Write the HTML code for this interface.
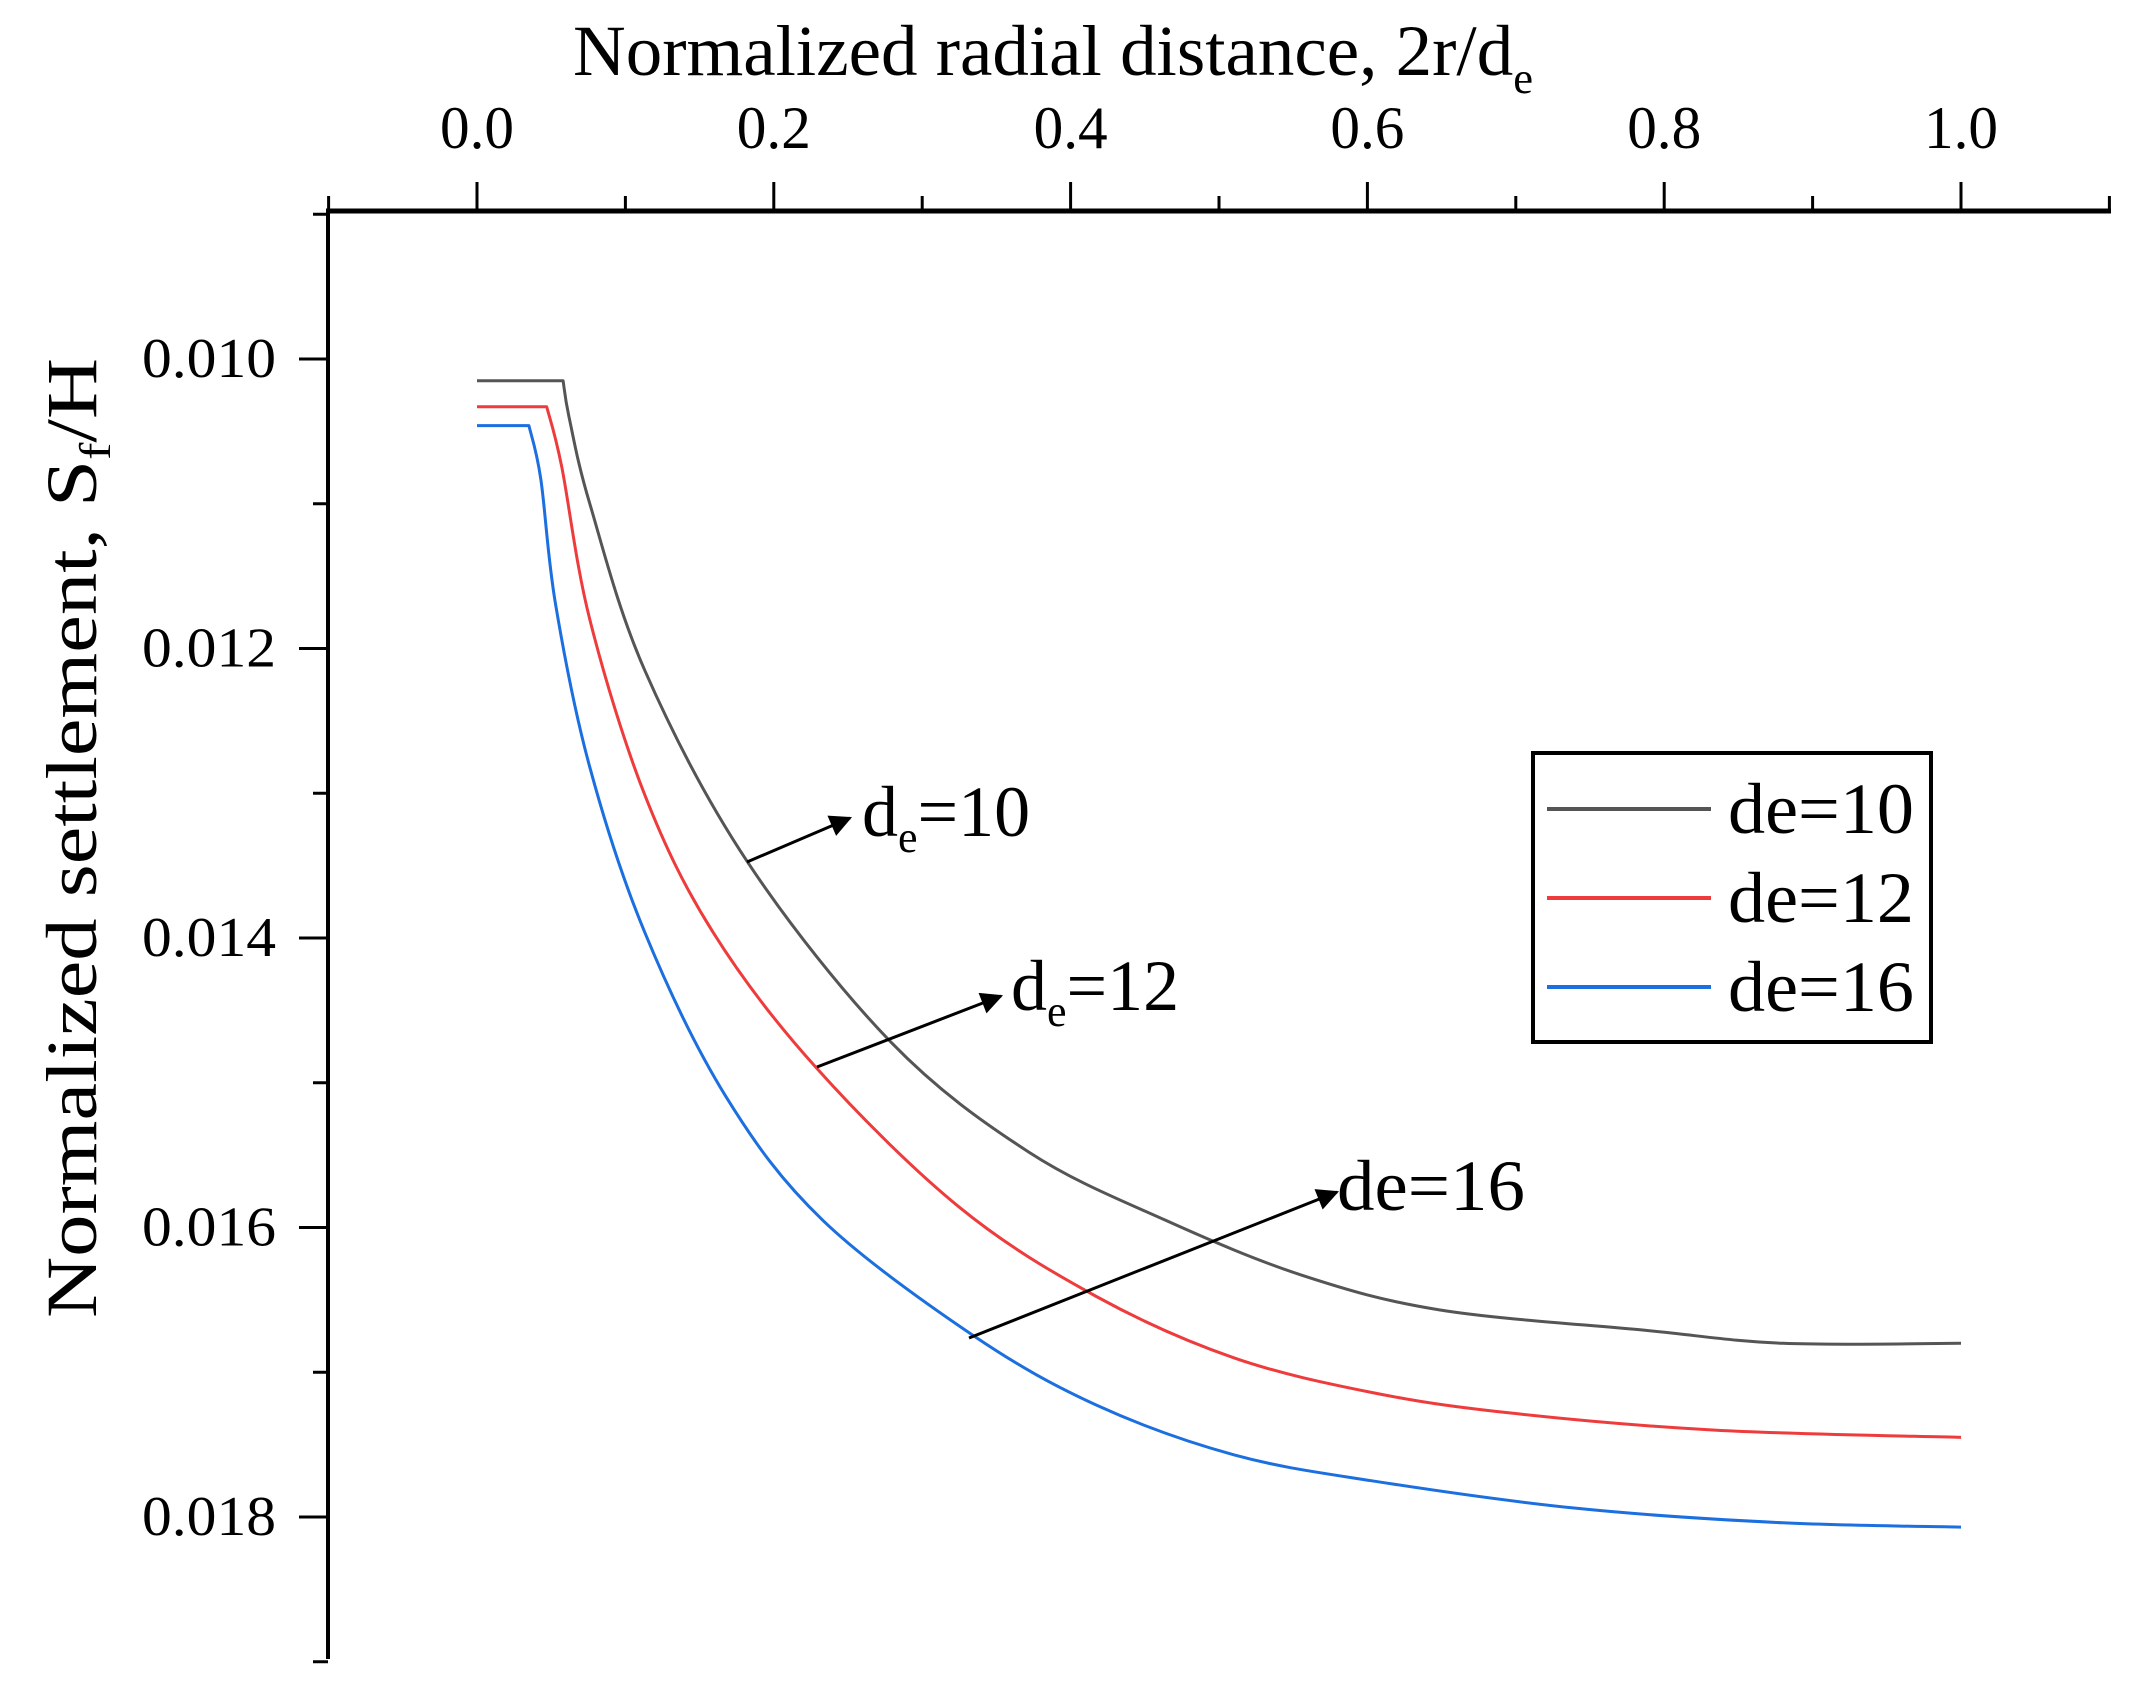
<!DOCTYPE html>
<html><head><meta charset="utf-8"><style>html,body{margin:0;padding:0;background:#fff}svg{display:block}</style></head>
<body>
<svg id="chart" width="2142" height="1691" viewBox="0 0 2142 1691" xmlns="http://www.w3.org/2000/svg" font-family="Liberation Serif, serif">
<g id="axes"></g>
<g id="series"></g>
<g id="annot"></g>
</svg>
<script>
const xTicks=[0,0.2,0.4,0.6,0.8,1.0];
const xTickLabels=["0.0","0.2","0.4","0.6","0.8","1.0"];
const yTicks=[0.010,0.012,0.014,0.016,0.018];
const yTickLabels=["0.010","0.012","0.014","0.016","0.018"];
const seriesNames=["de=10","de=12","de=16"];
const x10=[0,0.058,0.062,0.076,0.113,0.182,0.279,0.372,0.464,0.556,0.649,0.787,0.88,1.0];
const y10=[0.01015,0.01015,0.0104,0.0110,0.01215,0.01347,0.01472,0.01548,0.01595,0.01633,0.01657,0.01671,0.0168,0.0168];
const x12=[0,0.047,0.057,0.076,0.113,0.159,0.228,0.325,0.418,0.51,0.603,0.695,0.834,1.0];
const y12=[0.01033,0.01033,0.01074,0.01180,0.01301,0.01396,0.01489,0.01586,0.01648,0.0169,0.01714,0.01728,0.0174,0.01745];
const x16=[0,0.035,0.043,0.053,0.076,0.113,0.168,0.233,0.335,0.418,0.51,0.603,0.741,0.88,1.0];
const y16=[0.01046,0.01046,0.01083,0.01170,0.01282,0.01396,0.0151,0.01595,0.01675,0.01723,0.01757,0.01775,0.01794,0.01804,0.01807];
const colors=["#555555","#ee3c3c","#1b6fdf"];

const NS="http://www.w3.org/2000/svg";
const X0=328,X1=2109,Yt=211,Yb=1659;
function sx(v){return 477+(v-0)*(1961-477);}
function sy(v){return 359+(v-0.010)*(1517-359)/0.008;}
function mk(tag,attrs,parent,txt){const e=document.createElementNS(NS,tag);for(const k in attrs)e.setAttribute(k,attrs[k]);if(txt!==undefined)e.textContent=txt;parent.appendChild(e);return e;}
const ax=document.getElementById('axes');
let e;
e=mk('line',{x1:X0-2,y1:Yt,x2:X1+2,y2:Yt,stroke:'#000','stroke-width':5},ax);


e=mk('line',{x1:X0,y1:Yt,x2:X0,y2:Yb,stroke:'#000','stroke-width':4},ax);


for(let i=-1;i<=11;i++){const v=i/10;const px=sx(v);const major=(i%2===0);
 e=mk('line',{x1:px,y1:Yt,x2:px,y2:major?Yt-29:Yt-15,stroke:'#000','stroke-width':3},ax);
 
 }
xTicks.forEach((v,i)=>{e=mk('text',{x:sx(v),y:148,'text-anchor':'middle','font-size':60,textLength:74,lengthAdjust:'spacingAndGlyphs'},ax,xTickLabels[i]);
 
 });
for(let i=0;i<=10;i++){const v=0.009+i*0.001;const py=sy(v);const major=(i%2===1);
 e=mk('line',{x1:X0,y1:py,x2:major?X0-29:X0-15,y2:py,stroke:'#000','stroke-width':3},ax);
 
 }
yTicks.forEach((v,i)=>{e=mk('text',{x:276,y:sy(v)+18,'text-anchor':'end','font-size':56,textLength:134,lengthAdjust:'spacingAndGlyphs'},ax,yTickLabels[i]);
 
 });
e=mk('text',{x:573,y:75,'font-size':72,textLength:960,lengthAdjust:'spacingAndGlyphs'},ax);


e.innerHTML='Normalized radial distance, 2r/d<tspan font-size="44" dy="18">e</tspan>';
e=mk('text',{x:0,y:0,'font-size':72,transform:'translate(96,1318) rotate(-90)',textLength:960,lengthAdjust:'spacingAndGlyphs'},ax);


e.innerHTML='Normalized settlement, S<tspan font-size="44" dy="14">f</tspan><tspan dy="-14">/H</tspan>';

function smoothPath(px,py){
 let d='M'+px[0].toFixed(1)+','+py[0].toFixed(1)+' L'+px[1].toFixed(1)+','+py[1].toFixed(1);
 const n=px.length;
 for(let i=1;i<n-1;i++){
  const i0=Math.max(1,i-1),i3=Math.min(n-1,i+2);
  const c1x=px[i]+(px[i+1]-px[i0])/6,c1y=py[i]+(py[i+1]-py[i0])/6;
  const c2x=px[i+1]-(px[i3]-px[i])/6,c2y=py[i+1]-(py[i3]-py[i])/6;
  d+=' C'+c1x.toFixed(1)+','+c1y.toFixed(1)+' '+c2x.toFixed(1)+','+c2y.toFixed(1)+' '+px[i+1].toFixed(1)+','+py[i+1].toFixed(1);
 }
 return d;
}
const sg=document.getElementById('series');
[[x10,y10],[x12,y12],[x16,y16]].forEach((s,k)=>{
 const d=smoothPath(s[0].map(sx),s[1].map(sy));
 e=mk('path',{d:d,fill:'none',stroke:colors[k],'stroke-width':3,'stroke-linejoin':'round'},sg);
 
 
});
const lg=mk('g',{},sg);


e=mk('rect',{x:1533,y:753,width:398,height:289,fill:'#fff',stroke:'#000','stroke-width':4},lg);


seriesNames.forEach((n,k)=>{const yy=809+k*89;
 e=mk('line',{x1:1547,y1:yy,x2:1711,y2:yy,stroke:colors[k],'stroke-width':4},lg);
 
 
 e=mk('text',{x:1728,y:yy+24,'font-size':72,textLength:186,lengthAdjust:'spacingAndGlyphs'},lg,n);
 
 });

const an=document.getElementById('annot');
mk('defs',{},an).innerHTML='<marker id="ah" viewBox="0 0 10 10" refX="9" refY="5" markerWidth="34" markerHeight="22" orient="auto" markerUnits="userSpaceOnUse"><path d="M0,0 L10,5 L0,10 z" fill="#000"/></marker>';
const arrows=[[747,862,850,818],[817,1067,1001,996],[969,1338,1337,1192]];
arrows.forEach(a=>{e=mk('line',{x1:a[0],y1:a[1],x2:a[2],y2:a[3],stroke:'#000','stroke-width':3,'marker-end':'url(#ah)'},an);
 
 });
e=mk('text',{x:862,y:836,'font-size':72},an);


e.innerHTML='<tspan>d</tspan><tspan font-size="44" dy="16">e</tspan><tspan dy="-16">=10</tspan>';
e=mk('text',{x:1011,y:1010,'font-size':72},an);


e.innerHTML='<tspan>d</tspan><tspan font-size="44" dy="16">e</tspan><tspan dy="-16">=12</tspan>';
e=mk('text',{x:1337,y:1210,'font-size':72,textLength:188,lengthAdjust:'spacingAndGlyphs'},an,'de=16');


</script>
</body></html>
